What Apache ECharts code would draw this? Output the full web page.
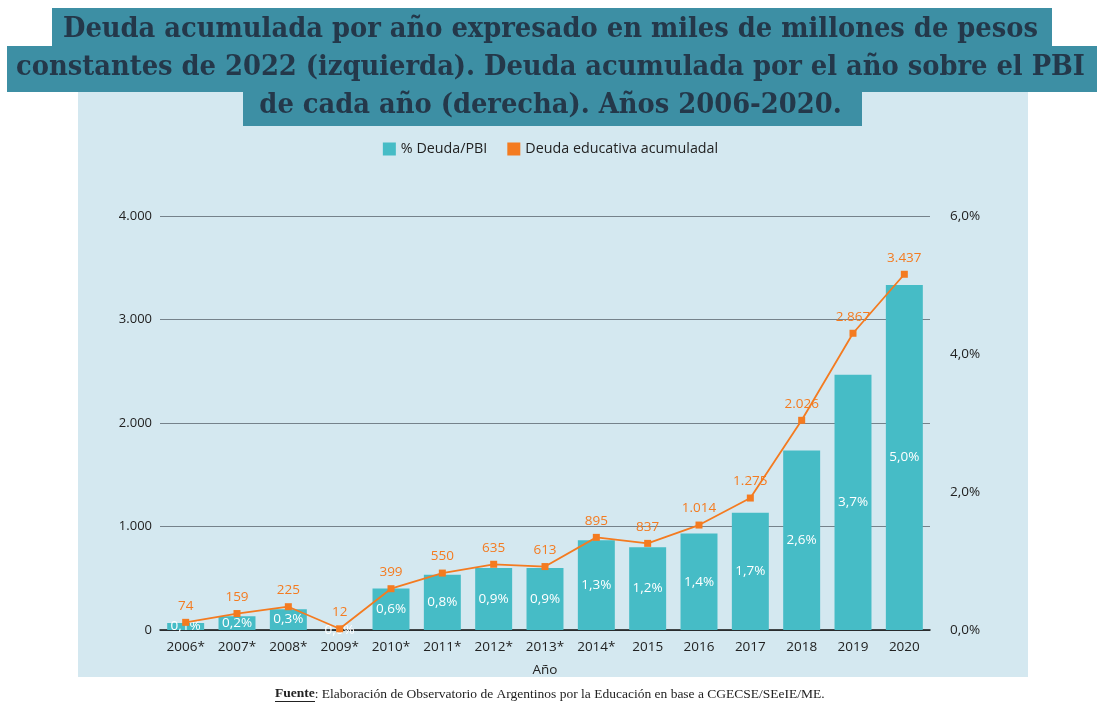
<!DOCTYPE html>
<html>
<head>
<meta charset="utf-8">
<script src="https://cdn.jsdelivr.net/npm/echarts@6/dist/echarts.min.js"></script>
<style>
  html, body { margin: 0; padding: 0; background: #fff; }
  #chart { width: 1101px; height: 720px; }
</style>
</head>
<body>
<div id="chart"></div>
<script>
var years = ["2006*", "2007*", "2008*", "2009*", "2010*", "2011*", "2012*", "2013*", "2014*", "2015", "2016", "2017", "2018", "2019", "2020"];
var deudaPBI = [0.1, 0.2, 0.3, 0.0, 0.6, 0.8, 0.9, 0.9, 1.3, 1.2, 1.4, 1.7, 2.6, 3.7, 5.0];
var deudaAcum = [74, 159, 225, 12, 399, 550, 635, 613, 895, 837, 1014, 1275, 2026, 2867, 3437];

function miles(v) {
    return String(Math.round(v)).replace(/\B(?=(\d{3})+(?!\d))/g, ".");
}
function pct(v) {
    return v.toFixed(1).replace(".", ",") + "%";
}

var titleFont = '"DejaVu Serif Condensed", "DejaVu Serif", serif';
var sansFont = '"Open Sans", "Noto Sans", sans-serif';
var footFont = '"Liberation Serif", serif';

var chart = echarts.init(document.getElementById("chart"));
var option = {
    backgroundColor: "#ffffff",
    animation: false,
    graphic: [
        { type: "rect", z: -10, shape: { x: 78, y: 90, width: 950, height: 587 }, style: { fill: "#d4e8f0" } },
        { type: "rect", z: 1, shape: { x: 52, y: 8, width: 1000, height: 40 }, style: { fill: "#3d8fa4" } },
        { type: "rect", z: 1, shape: { x: 7, y: 46, width: 1090, height: 46 }, style: { fill: "#3d8fa4" } },
        { type: "rect", z: 1, shape: { x: 243, y: 91, width: 619, height: 35 }, style: { fill: "#3d8fa4" } },
        { type: "text", z: 2, left: "center", top: 15, style: { text: "Deuda acumulada por año expresado en miles de millones de pesos", font: "bold 28.7px " + titleFont, fill: "#24384a" } },
        { type: "text", z: 2, left: "center", top: 53, style: { text: "constantes de 2022 (izquierda). Deuda acumulada por el año sobre el PBI", font: "bold 28.7px " + titleFont, fill: "#24384a" } },
        { type: "text", z: 2, left: "center", top: 91, style: { text: "de cada año (derecha). Años 2006-2020.", font: "bold 28.7px " + titleFont, fill: "#24384a" } },
        { type: "text", z: 2, left: 275, top: 687, style: {
            text: "{b|Fuente}{n|: Elaboración de Observatorio de Argentinos por la Educación en base a CGECSE/SEeIE/ME.}",
            rich: {
                b: { fontFamily: footFont, fontWeight: "bold", fontSize: 13.5, fill: "#222" },
                n: { fontFamily: footFont, fontSize: 13.5, fill: "#222" }
            }
        } },
        { type: "line", z: 2, shape: { x1: 275, y1: 701.5, x2: 315, y2: 701.5 }, style: { stroke: "#222", lineWidth: 1 } }
    ],
    legend: {
        top: 137,
        left: "center",
        itemWidth: 13,
        itemHeight: 13,
        itemGap: 20,
        icon: "rect",
        textStyle: { fontFamily: sansFont, fontSize: 14.3, color: "#222" },
        data: ["% Deuda/PBI", "Deuda educativa acumuladal"]
    },
    grid: { left: 160, right: 171, top: 216, bottom: 90 },
    xAxis: {
        type: "category",
        data: years,
        name: "Año",
        nameLocation: "middle",
        nameGap: 33,
        nameTextStyle: { fontFamily: sansFont, fontSize: 13.5, color: "#222" },
        axisTick: { show: false },
        axisLine: { lineStyle: { color: "#111", width: 1.5 } },
        axisLabel: { fontFamily: sansFont, fontSize: 13.5, color: "#222", margin: 10, interval: 0 }
    },
    yAxis: [
        {
            type: "value",
            min: 0, max: 4000, interval: 1000,
            axisLine: { show: false },
            axisTick: { show: false },
            splitLine: { lineStyle: { color: "#75828b", width: 1 } },
            axisLabel: { fontFamily: sansFont, fontSize: 13, color: "#222", margin: 8, formatter: miles }
        },
        {
            type: "value",
            min: 0, max: 6, interval: 2,
            axisLine: { show: false },
            axisTick: { show: false },
            splitLine: { show: false },
            axisLabel: { fontFamily: sansFont, fontSize: 13.5, color: "#222", margin: 20, formatter: pct }
        }
    ],
    series: [
        {
            name: "% Deuda/PBI",
            type: "bar",
            yAxisIndex: 1,
            data: deudaPBI,
            barWidth: "72%",
            itemStyle: { color: "#46bcc6" },
            label: {
                show: true,
                position: "inside",
                color: "#ffffff",
                fontFamily: sansFont,
                fontSize: 13.5,
                formatter: function (p) { return pct(p.value); }
            }
        },
        {
            name: "Deuda educativa acumuladal",
            type: "line",
            yAxisIndex: 0,
            data: deudaAcum,
            symbol: "rect",
            symbolSize: 7,
            lineStyle: { color: "#f47b20", width: 1.8 },
            itemStyle: { color: "#f47b20" },
            label: {
                show: true,
                position: "top",
                distance: 6,
                color: "#f47b20",
                fontFamily: sansFont,
                fontSize: 13.5,
                formatter: function (p) { return miles(p.value); }
            }
        }
    ]
};
chart.setOption(option);
</script>
</body>
</html>
